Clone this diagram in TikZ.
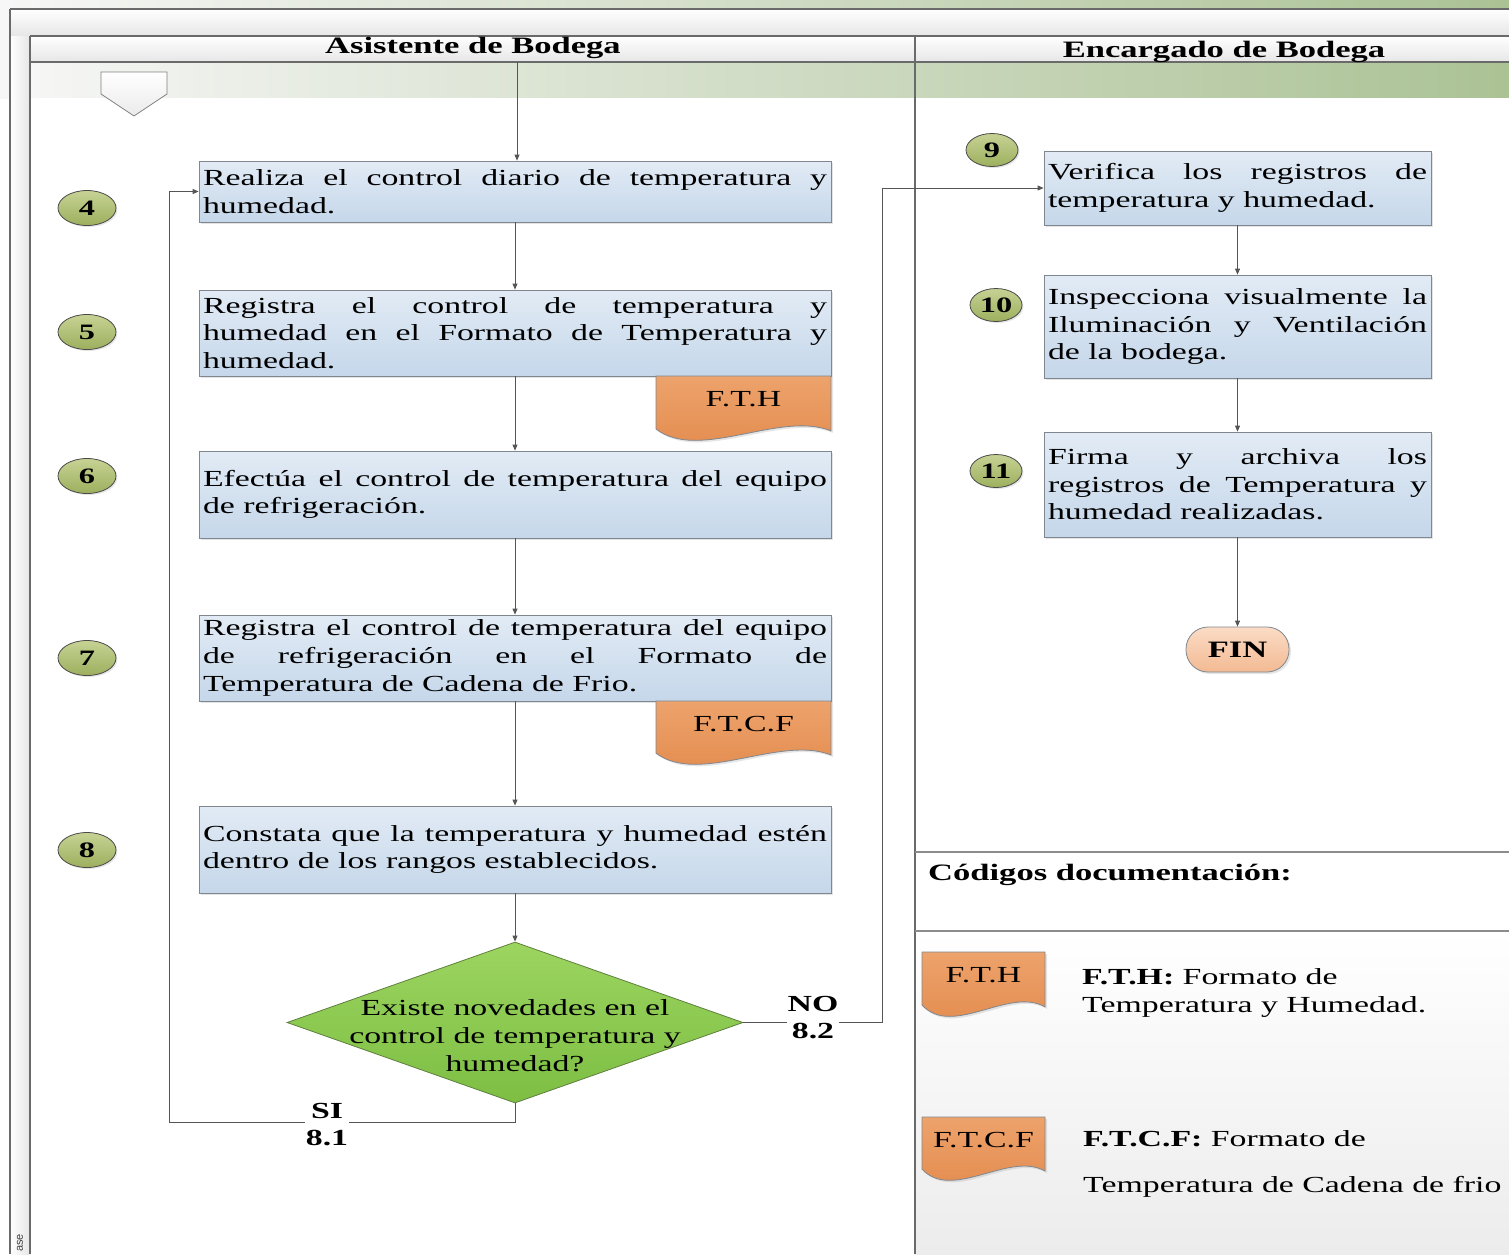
\documentclass[tikz,border=0pt]{standalone}
\usepackage{fontspec}
\setmainfont{Liberation Serif}[FakeStretch=1.47]
\newfontfamily\stripfont{Liberation Sans}
\usetikzlibrary{arrows.meta,shapes.geometric,shadows,calc}

\definecolor{lineg}{HTML}{555555}
\definecolor{frameg}{HTML}{6A6A6A}
\definecolor{boxtop}{HTML}{E2EBF5}
\definecolor{boxbot}{HTML}{C5D7EA}
\definecolor{boxedge}{HTML}{80878F}
\definecolor{badgetop}{HTML}{C6D294}
\definecolor{badgebot}{HTML}{9DB05E}
\definecolor{badgeedge}{HTML}{4A4A4A}
\definecolor{doctop}{HTML}{EDA36C}
\definecolor{docbot}{HTML}{E2884A}
\definecolor{dectop}{HTML}{9CD560}
\definecolor{decbot}{HTML}{7DBE43}
\definecolor{decedge}{HTML}{5F7F3F}
\definecolor{fintop}{HTML}{FBDCC6}
\definecolor{finbot}{HTML}{F3BA93}
\definecolor{bandleft}{HTML}{F7F7F7}
\definecolor{bandright}{HTML}{ABC295}
\definecolor{hdrbot}{HTML}{E6E6E6}
\definecolor{legbot}{HTML}{ECECEC}

\newcommand\stepfont{\fontsize{23}{27.6}\selectfont\hyphenpenalty=10000\exhyphenpenalty=10000\tolerance=9999}
\newcommand\headfont{\fontsize{23.5}{27}\selectfont\bfseries}
\newcommand\numfont{\fontsize{22}{26}\selectfont\bfseries}
\newcommand\branchfont{\fontsize{23}{27}\selectfont\bfseries}

\tikzset{
  stepbox/.style={rectangle, draw=boxedge, line width=0.8pt,
    top color=boxtop, bottom color=boxbot,
    inner xsep=4pt, inner ysep=0pt, align=justify, font=\stepfont,
    drop shadow={opacity=0.22, shadow xshift=2pt, shadow yshift=-2pt}},
  leftbox/.style={stepbox, text width=624pt},
  rightbox/.style={stepbox, text width=379pt},
  badge/.style={ellipse, draw=badgeedge, line width=0.8pt,
    top color=badgetop, bottom color=badgebot, inner sep=0pt,
    minimum width=58pt, minimum height=35pt, font=\numfont,
    drop shadow={opacity=0.2, shadow xshift=1.5pt, shadow yshift=-1.5pt}},
  rbadge/.style={badge, minimum width=52pt, minimum height=33pt},
  conn/.style={draw=lineg, line width=0.9pt, -{Triangle[length=6pt,width=5pt]}},
  lane/.style={draw=frameg, line width=1.3pt},
  docpath/.style={draw=boxedge, line width=0.8pt, top color=doctop, bottom color=docbot,
    drop shadow={opacity=0.2, shadow xshift=2pt, shadow yshift=-2pt}},
  doctext/.style={font=\fontsize{23}{26}\selectfont, inner sep=0pt},
  branch/.style={font=\branchfont, align=center, fill=white, inner sep=1pt},
  legtext/.style={font=\fontsize{23}{26}\selectfont, anchor=base west, inner sep=0pt},
}

% wavy-bottom document symbol: name, left x, top y, width, height, label
\newcommand\docshape[6]{%
  \path[docpath] (#2,#3) -- ({#2+#4},#3) -- ({#2+#4},{#3+0.9*#5})
    .. controls ({#2+0.71*#4},{#3+0.56*#5}) and ({#2+0.25*#4},{#3+1.41*#5})
    .. (#2,{#3+0.87*#5}) -- cycle;
  \node[doctext] (#1) at ({#2+#4/2},{#3+0.38*#5}) {#6};
}

\begin{document}
\begin{tikzpicture}[x=1pt,y=-1pt]
\useasboundingbox (0,0) rectangle (1509,1254);

% --- pool background and headers ---
\fill[left color=bandleft, right color=bandright] (0,0) rectangle (1509,98);
\fill[white] (30,98) rectangle (1509,1254);
\fill[top color=white, bottom color=hdrbot] (10,9) rectangle (1509,36);
\fill[top color=white, bottom color=hdrbot] (30,36) rectangle (1509,62);
\fill[left color=white, right color=hdrbot] (10,36) rectangle (30,1254);
\fill[top color=white, bottom color=legbot] (915,931) rectangle (1509,1254);

\node[font=\stripfont\fontsize{11}{12}\selectfont, text=black!75, rotate=90,
      anchor=west, inner sep=0pt] (fase) at (20,1252) {ase};

\draw[lane] (10,9) -- (1509,9);
\draw[lane] (10,9) -- (10,1254);
\draw[lane] (30,36) -- (30,1254);
\draw[lane] (30,36) -- (1509,36);
\draw[lane] (30,62) -- (1509,62);
\draw[lane] (915,36) -- (915,1254);
\draw[draw=black!45, line width=1.2pt] (915,852) -- (1509,852);
\draw[draw=black!45, line width=1.2pt] (915,931) -- (1509,931);

\node[font=\headfont, anchor=base] (laneA) at (473,53) {Asistente de Bodega};
\node[font=\headfont, anchor=base] (laneB) at (1224,57) {Encargado de Bodega};

% off-page reference
\path[draw=black!50, line width=0.8pt, top color=white, bottom color=black!8]
  (101,72) -- (167,72) -- (167,94) -- (134,116) -- (101,94) -- cycle;

% --- left lane: steps ---
\node[leftbox, minimum height=61pt] (b4) at (515,191.5)
  {Realiza el control diario de temperatura y\linebreak humedad.};
\node[leftbox, minimum height=86pt] (b5) at (515,333)
  {Registra el control de temperatura y\linebreak humedad en el Formato de Temperatura y\linebreak humedad.};
\docshape{fth}{656}{376}{175}{61}{F.T.H}
\node[leftbox, minimum height=87pt] (b6) at (515,494.5)
  {Efectúa el control de temperatura del equipo\linebreak de refrigeración.};
\node[leftbox, minimum height=86pt] (b7) at (515,658)
  {Registra el control de temperatura del equipo\linebreak de refrigeración en el Formato de\linebreak Temperatura de Cadena de Frio.};
\docshape{ftcf}{656}{701}{175}{60}{F.T.C.F}
\node[leftbox, minimum height=87pt] (b8) at (515,849.5)
  {Constata que la temperatura y humedad estén\linebreak dentro de los rangos establecidos.};

\node[diamond, draw=decedge, line width=0.8pt, top color=dectop, bottom color=decbot,
      minimum width=456pt, minimum height=161pt, inner sep=0pt] (dec) at (515,1022.5) {};
\node[font=\fontsize{23}{28}\selectfont, align=center] (dectext) at (515,1036)
  {Existe novedades en el\\control de temperatura y\\humedad?};

% step numbers
\node[badge] (n4) at (87,208) {4};
\node[badge] (n5) at (87,332) {5};
\node[badge] (n6) at (87,476) {6};
\node[badge] (n7) at (87,658) {7};
\node[badge] (n8) at (87,850) {8};

% --- right lane: steps ---
\node[rightbox, minimum height=74pt] (b9) at (1237.5,188)
  {Verifica los registros de\linebreak temperatura y humedad.};
\node[rightbox, minimum height=103pt] (b10) at (1237.5,326.5)
  {Inspecciona visualmente la\linebreak Iluminación y Ventilación\linebreak de la bodega.};
\node[rightbox, minimum height=105pt] (b11) at (1237.5,484.5)
  {Firma y archiva los\linebreak registros de Temperatura y\linebreak humedad realizadas.};
\node[rectangle, rounded corners=22pt, draw=boxedge, line width=0.8pt,
      top color=fintop, bottom color=finbot, minimum width=103pt, minimum height=45pt,
      inner sep=0pt, font=\headfont,
      drop shadow={opacity=0.2, shadow xshift=2pt, shadow yshift=-2pt}] (fin) at (1237.5,649.5) {FIN};

\node[rbadge] (n9) at (992,150) {9};
\node[rbadge] (n10) at (996,305) {10};
\node[rbadge] (n11) at (996,471) {11};

% --- connectors ---
\coordinate (topin) at (517,62);
\draw[conn] (topin) -- (topin |- b4.north);
\draw[conn] (b4.south) -- (b5.north);
\draw[conn] (b5.south) -- (b6.north);
\draw[conn] (b6.south) -- (b7.north);
\draw[conn] (b7.south) -- (b8.north);
\draw[conn] (b8.south) -- (dec.north);

\coordinate (siturn) at (169,1122);
\draw[conn] (dec.south) |- (siturn) |- (b4.west);
\node[branch] (silabel) at (327,1124.5) {SI\\8.1};

\coordinate (noturn) at (882,1022.5);
\draw[conn] (dec.east) -- (noturn) |- (b9.west);
\node[branch] (nolabel) at (813,1017.5) {NO\\8.2};

\draw[conn] (b9.south) -- (b10.north);
\draw[conn] (b10.south) -- (b11.north);
\draw[conn] (b11.south) -- (fin.north);

% --- legend ---
\node[font=\headfont, anchor=base west, inner sep=0pt] (legtitle) at (928,880) {Códigos documentación:};
\docshape{legfth}{922}{952}{123}{61}{F.T.H}
\docshape{legftcf}{922}{1117}{123}{60}{F.T.C.F}
\node[legtext] (leg1a) at (1082,984) {\textbf{F.T.H:} Formato de};
\node[legtext] (leg1b) at (1082,1012) {Temperatura y Humedad.};
\node[legtext] (leg2a) at (1083,1146) {\textbf{F.T.C.F:} Formato de};
\node[legtext] (leg2b) at (1083,1192) {Temperatura de Cadena de frio};

\end{tikzpicture}
\end{document}
